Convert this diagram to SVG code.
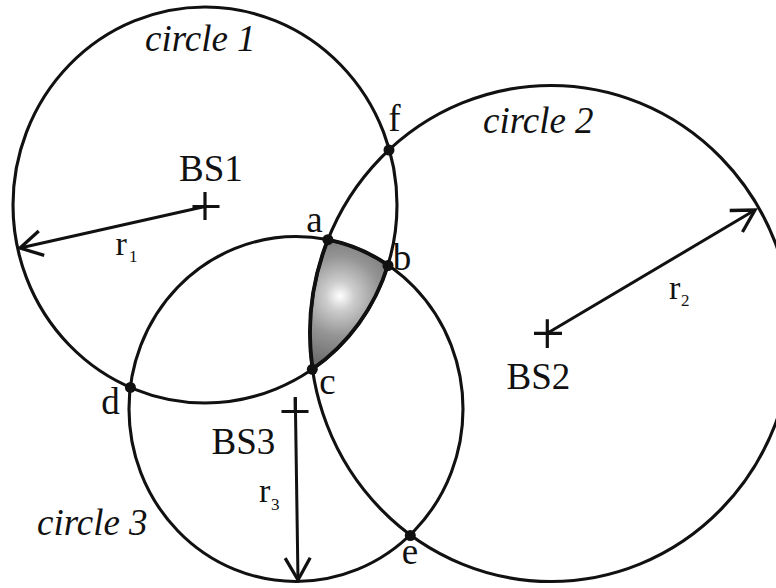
<svg xmlns="http://www.w3.org/2000/svg" width="776" height="588" viewBox="0 0 776 588">
<defs>
<style>
.circ{fill:none;stroke:#111;stroke-width:3.1}
.cross{stroke:#111;stroke-width:3.2;fill:none}
.conn{stroke:#111;stroke-width:3;fill:none;marker-end:url(#arrow)}
.pt{fill:#111}
.lbl{font-family:"Liberation Serif","Times New Roman",serif;font-size:37px;fill:#111}
.cl{font-family:"Liberation Serif","Times New Roman",serif;font-size:37px;font-style:italic;fill:#111}
.r{font-family:"Liberation Serif","Times New Roman",serif;font-size:34px;fill:#111}
.sub{font-size:17px}
</style>
<marker id="arrow" markerUnits="userSpaceOnUse" orient="auto" markerWidth="30" markerHeight="30" refX="0" refY="0" overflow="visible">
<path d="M-22,-12.5 L0,0 L-22,12.5" fill="none" stroke="#111" stroke-width="3.3"/>
</marker>
<radialGradient id="shade" gradientUnits="userSpaceOnUse" cx="340" cy="296" r="72">
<stop offset="0" stop-color="#ffffff"/>
<stop offset="0.2" stop-color="#cdcdcd"/>
<stop offset="0.55" stop-color="#959595"/>
<stop offset="1" stop-color="#6a6a6a"/>
</radialGradient>
</defs>
<rect width="776" height="588" fill="#fff"/>

<g id="region">
<path d="M327.9,239.7 A167,172.5 0 0 1 388,265 A192,198 0 0 1 312.5,369 A241,248 0 0 1 327.9,239.7 Z" fill="url(#shade)" stroke="#111" stroke-width="3.8"/>
</g>

<g id="circle1">
<ellipse class="circ" cx="205" cy="205" rx="192" ry="198"/>
<text class="cl" x="145" y="51">circle 1</text>
</g>
<g id="circle2">
<ellipse class="circ" cx="551" cy="333.5" rx="241" ry="248"/>
<text class="cl" x="483" y="133">circle 2</text>
</g>
<g id="circle3">
<ellipse class="circ" cx="296" cy="409" rx="167" ry="172.5"/>
<text class="cl" x="37" y="535">circle 3</text>
</g>

<g id="BS1">
<path class="cross" d="M192.5,206.5 H219.5 M205,192 V220"/>
<text class="lbl" x="211" y="181" text-anchor="middle">BS1</text>
</g>
<g id="BS2">
<path class="cross" d="M534,333.3 H562 M547.3,319.3 V348"/>
<text class="lbl" x="538.5" y="388.5" text-anchor="middle">BS2</text>
</g>
<g id="BS3">
<path class="cross" d="M281.5,411.5 H308.5 M295.3,397 V412"/>
<text class="lbl" x="243.5" y="454" text-anchor="middle">BS3</text>
</g>

<g id="connectors">
<line class="conn" x1="205" y1="206.5" x2="20" y2="248"/>
<line class="conn" x1="547.3" y1="333.3" x2="755" y2="210"/>
<line class="conn" x1="295.3" y1="398" x2="298" y2="580"/>
<text class="r" x="115.5" y="255">r<tspan class="sub" x="129" y="262">1</tspan></text>
<text class="r" x="669" y="298.5">r<tspan class="sub" x="681" y="306">2</tspan></text>
<text class="r" x="259" y="502">r<tspan class="sub" x="271" y="509.5">3</tspan></text>
</g>

<g id="point-a"><circle class="pt" cx="327.9" cy="239.7" r="5.5"/><text class="lbl" x="314.5" y="231.5" text-anchor="middle">a</text></g>
<g id="point-b"><circle class="pt" cx="388" cy="265.5" r="5.5"/><text class="lbl" x="402" y="269.5" text-anchor="middle">b</text></g>
<g id="point-c"><circle class="pt" cx="312.3" cy="369.3" r="5.5"/><text class="lbl" x="327.5" y="393.5" text-anchor="middle">c</text></g>
<g id="point-d"><circle class="pt" cx="130.4" cy="387.4" r="5.5"/><text class="lbl" x="110.5" y="413.5" text-anchor="middle">d</text></g>
<g id="point-e"><circle class="pt" cx="410.3" cy="535.5" r="5.5"/><text class="lbl" x="410" y="563.5" text-anchor="middle">e</text></g>
<g id="point-f"><circle class="pt" cx="389" cy="150" r="5.5"/><text class="lbl" x="394.5" y="130.5" text-anchor="middle">f</text></g>
</svg>
